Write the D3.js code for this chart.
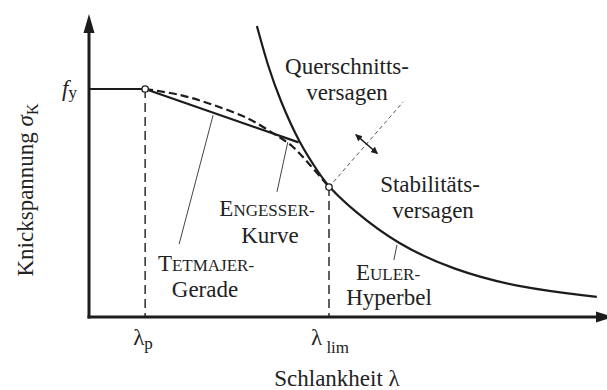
<!DOCTYPE html>
<html><head><meta charset="utf-8">
<script src="https://cdn.jsdelivr.net/npm/d3@7"></script>
<style>
body{margin:0;background:#fff}
svg{display:block}
</style>
</head><body>
<svg id="chart" width="607" height="390"></svg>
<script>
// Characteristic values (slenderness λ, stress σ in arbitrary units)
const lambdaP = 10.9;
const lambdaLim = 46.6;
const fy = 76;
const sigmaLim = 43.3;

// Plateau at yield stress up to λp
const plateau = [[0, fy], [lambdaP, fy]];
// Tetmajer straight line
const tetmajer = [[lambdaP, fy], [40.7, 58.2]];
// Engesser curve (dashed)
const engesser = [[10.9, 76.0], [17.7, 74.0], [24.1, 70.7], [30.7, 66.3], [35.7, 61.3], [39.4, 57.0], [42.9, 50.7], [46.6, 43.3]];
// Euler hyperbola
const euler = [[32.6, 97.0], [34.8, 83.3], [37.1, 72.3], [40.8, 58.0], [44.9, 47.3], [46.6, 43.3], [51.3, 35.5], [59.8, 24.3], [70.7, 15.7], [83.7, 9.7], [98.6, 6.7]];
// Boundary between cross-section failure and stability failure
const boundary = [[46.6, 43.3], [61.0, 71.7]];
const boundaryArrow = [[51.8, 60.8], [56.0, 54.5]];
// Leader lines from curve labels to their curves
const leaders = [
  [[24.1, 67.3], [17.5, 24.3]],
  [[38.6, 58.3], [36.5, 41.7]],
  [[59.8, 24.0], [59.2, 19.0]]
];

const svg = d3.select("#chart");
const x = d3.scaleLinear().domain([0, 100]).range([89, 604]);
const y = d3.scaleLinear().domain([0, 100]).range([317, 17]);
const line = d3.line().x(d => x(d[0])).y(d => y(d[1]));
const ink = "#1c1c1c";
const serif = "'Liberation Serif', 'Times New Roman', serif";

// Reference lines at λp and λlim
[[lambdaP, fy], [lambdaLim, sigmaLim]].forEach(([l, s]) => {
  svg.append("line")
    .attr("x1", x(l)).attr("x2", x(l))
    .attr("y1", y(s)).attr("y2", y(0))
    .attr("stroke", ink).attr("stroke-width", 1.4)
    .attr("stroke-dasharray", "9,5");
});

// Boundary (thin dashed)
svg.append("path").attr("d", line(boundary))
  .attr("fill", "none").attr("stroke", "#555").attr("stroke-width", 1)
  .attr("stroke-dasharray", "4,3");

// Double-headed arrow across the boundary
const defs = svg.append("defs");
defs.append("marker").attr("id", "ah").attr("viewBox", "0 0 10 10")
  .attr("refX", 9).attr("refY", 5).attr("markerWidth", 7).attr("markerHeight", 7)
  .attr("markerUnits", "userSpaceOnUse").attr("orient", "auto-start-reverse")
  .append("path").attr("d", "M0,0 L10,5 L0,10 z").attr("fill", ink);
svg.append("path").attr("d", line(boundaryArrow))
  .attr("fill", "none").attr("stroke", ink).attr("stroke-width", 1.4)
  .attr("marker-start", "url(#ah)").attr("marker-end", "url(#ah)");

// Leader lines
leaders.forEach(seg => {
  svg.append("path").attr("d", line(seg))
    .attr("fill", "none").attr("stroke", "#444").attr("stroke-width", 1);
});

// Curves
svg.append("path").attr("d", line(plateau))
  .attr("fill", "none").attr("stroke", ink).attr("stroke-width", 2);
svg.append("path").attr("d", line(tetmajer))
  .attr("fill", "none").attr("stroke", ink).attr("stroke-width", 2.2);
svg.append("path").attr("d", line.curve(d3.curveCatmullRom)(engesser))
  .attr("fill", "none").attr("stroke", ink).attr("stroke-width", 2.2)
  .attr("stroke-dasharray", "8,4");
svg.append("path").attr("d", line.curve(d3.curveBasis)(euler))
  .attr("fill", "none").attr("stroke", ink).attr("stroke-width", 2.2);

// Axes with arrowheads
svg.append("line").attr("x1", x(0)).attr("x2", x(0)).attr("y1", y(0) + 1.5).attr("y2", 30)
  .attr("stroke", ink).attr("stroke-width", 3);
svg.append("line").attr("x1", x(0) - 1.5).attr("x2", 598).attr("y1", y(0)).attr("y2", y(0))
  .attr("stroke", ink).attr("stroke-width", 3);
svg.append("path").attr("d", `M${x(0)},14 L${x(0) - 5.5},33 L${x(0) + 5.5},33 Z`).attr("fill", ink);
svg.append("path").attr("d", `M613,${y(0)} L596,${y(0) - 5.5} L596,${y(0) + 5.5} Z`).attr("fill", ink);

// Characteristic points
[[lambdaP, fy], [lambdaLim, sigmaLim]].forEach(([l, s]) => {
  svg.append("circle").attr("cx", x(l)).attr("cy", y(s)).attr("r", 3.2)
    .attr("fill", "#fff").attr("stroke", ink).attr("stroke-width", 1.3);
});

// Text
const fs = 23, sc = 17;
function label(cx, by, parts, anchor = "middle") {
  const t = svg.append("text").attr("x", cx).attr("y", by)
    .attr("text-anchor", anchor)
    .style("font-family", serif).style("font-size", fs + "px").style("fill", "#222");
  parts.forEach(p => {
    const s = t.append("tspan").text(p.t);
    if (p.fs) s.style("font-size", p.fs + "px");
    if (p.it) s.style("font-style", "italic");
    if (p.dy) s.attr("dy", p.dy);
  });
  return t;
}

// fy
label(x(0) - 12, y(fy) + 7, [{t: "f", it: true}, {t: "y", fs: 17, dy: 2}], "end");
// Y axis title
svg.append("text").attr("transform", "translate(33,190) rotate(-90)")
  .attr("text-anchor", "middle")
  .style("font-family", serif).style("font-size", fs + "px").style("fill", "#222")
  .call(t => {
    t.append("tspan").text("Knickspannung ");
    t.append("tspan").style("font-style", "italic").text("σ");
    t.append("tspan").style("font-size", "16px").attr("dy", 5).text("K");
  });

// λ ticks
label(x(lambdaP) - 12, 345, [{t: "λ"}, {t: "p", fs: 17, dy: 4}], "start");
label(x(lambdaLim) - 18, 345, [{t: "λ"}, {t: " lim", fs: 17, dy: 8}], "start");
label(337, 386, [{t: "Schlankheit "}, {t: "λ"}]);

// Regions
label(347, 74, [{t: "Querschnitts-"}]);
label(347, 100, [{t: "versagen"}]);
label(430, 192, [{t: "Stabilitäts-"}]);
label(433, 218, [{t: "versagen"}]);

// Curve names (small caps)
label(267, 216, [{t: "E"}, {t: "NGESSER-", fs: sc}]);
label(270, 243, [{t: "Kurve"}]);
label(206, 271, [{t: "T"}, {t: "ETMAJER-", fs: sc}]);
label(205, 297, [{t: "Gerade"}]);
label(388, 280, [{t: "E"}, {t: "ULER-", fs: sc}]);
label(389, 305, [{t: "Hyperbel"}]);
</script>
</body></html>
